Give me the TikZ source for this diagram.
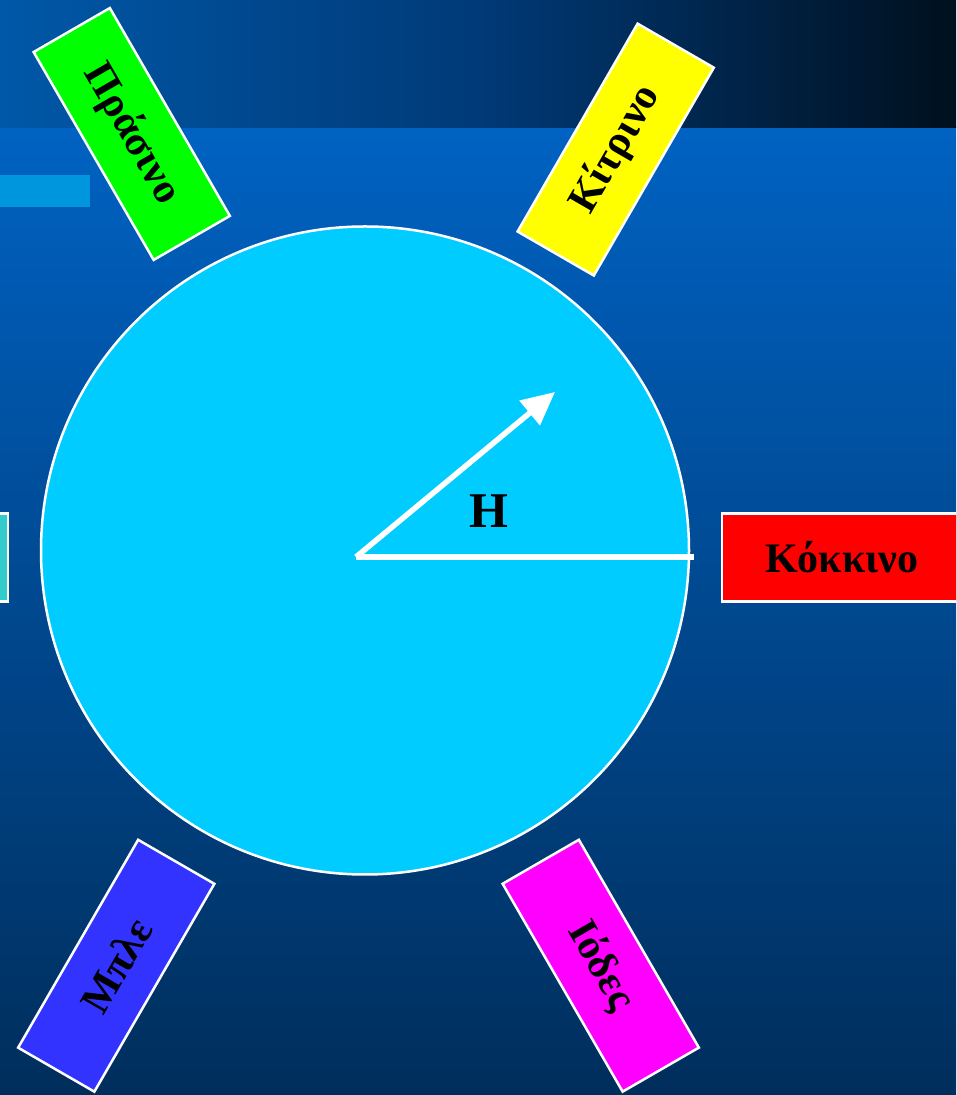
\documentclass[tikz,border=0pt]{standalone}
\usepackage{fontspec}
\setmainfont{Liberation Serif}
\usetikzlibrary{arrows.meta}
\definecolor{bandL}{HTML}{0058A8}
\definecolor{bandM}{HTML}{003A78}
\definecolor{bandR}{HTML}{00101E}
\definecolor{bgTop}{HTML}{0062C2}
\definecolor{bgBot}{HTML}{002E5C}
\definecolor{barC}{HTML}{0096DD}
\definecolor{wheelC}{HTML}{00CCFF}
\definecolor{cGreen}{HTML}{00FF00}
\definecolor{cYellow}{HTML}{FFFF00}
\definecolor{cRed}{HTML}{FF0000}
\definecolor{cBlue}{HTML}{3333FF}
\definecolor{cMagenta}{HTML}{FF00FF}
\definecolor{cCyan}{HTML}{33CCCC}
\tikzset{
  colorbox/.style={draw=white, line width=2.5pt, minimum width=240pt, minimum height=88pt,
    inner sep=0pt, font=\bfseries\fontsize{42}{50}\selectfont, text=black},
  whiteline/.style={draw=white, line width=5.5pt},
}
\begin{document}
\begin{tikzpicture}[x=1pt,y=1pt]
\useasboundingbox (0,0) rectangle (956,1095);
\clip (0,0) rectangle (956,1095);
% background
\shade[bottom color=bgBot, top color=bgTop] (0,0) rectangle (956,967);
\shade[left color=bandL, right color=bandR, middle color=bandM] (0,967) rectangle (956,1095);
\fill[barC] (0,888) rectangle (90,920);
% wheel
\node[circle, draw=white, line width=2.5pt, fill=wheelC, minimum size=648pt, inner sep=0pt] (wheel) at (365,544.5) {};
\coordinate (o) at (356,538);
\coordinate (r) at (694,538);
\coordinate (tip) at (555,703);
\draw[whiteline, line cap=butt] (o) -- (r);
\draw[whiteline, -{Triangle[length=33pt,width=31pt]}] (o) -- (tip);
\node[font=\bfseries\fontsize{50}{56}\selectfont] (h) at (489,584) {Η};
% colour boxes
\node[colorbox, fill=cRed, minimum width=260pt] (red) at (852,537.5) {};
\node[font=\bfseries\fontsize{42}{50}\selectfont] (redtext) at (842,537.5) {Κόκκινο};
\node[colorbox, fill=cCyan] (cyan) at (-112,537.5) {};
\node[colorbox, fill=cGreen, rotate=-60] (green) at (131.75,961) {Πράσινο};
\node[colorbox, fill=cYellow, rotate=60] (yellow) at (615.7,945.4) {Κίτρινο};
\node[colorbox, fill=cBlue, rotate=60] (blue) at (116.25,129.25) {Μπλε};
\node[colorbox, fill=cMagenta, rotate=-60] (magenta) at (600.75,129.3) {Ιόδες};
\end{tikzpicture}
\end{document}
